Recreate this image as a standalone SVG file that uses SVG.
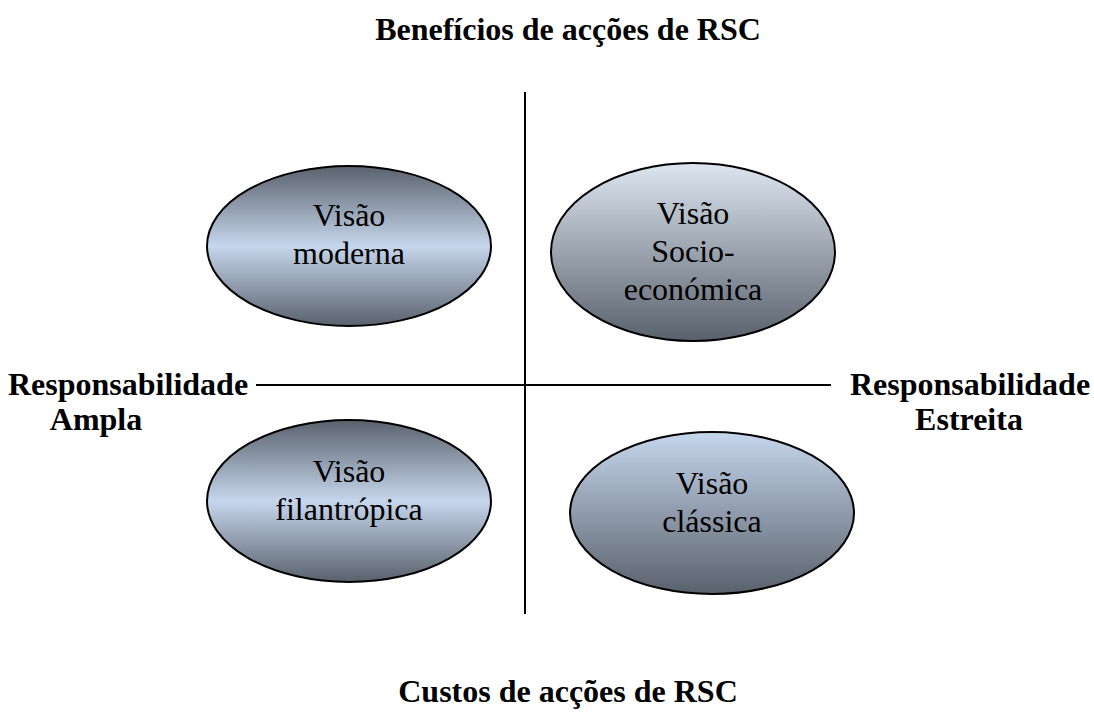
<svg xmlns="http://www.w3.org/2000/svg" width="1094" height="719" viewBox="0 0 1094 719">
<style>
.t{font-family:"Liberation Serif","Times New Roman",serif;font-size:32px;fill:#000}
.b{font-weight:bold}
.n{text-anchor:middle}
.e{stroke:#000;stroke-width:2}
.ln{stroke:#000;stroke-width:2;fill:none}
</style>
<defs>
<linearGradient id="gdld" x1="0" y1="0" x2="0" y2="1">
<stop offset="0" stop-color="#59616c"/>
<stop offset="0.5" stop-color="#c6d6ec"/>
<stop offset="1" stop-color="#59616c"/>
</linearGradient>
<linearGradient id="gld1" x1="0" y1="0" x2="0" y2="1">
<stop offset="0" stop-color="#dde5f0"/>
<stop offset="1" stop-color="#59616c"/>
</linearGradient>
<linearGradient id="gld2" x1="0" y1="0" x2="0" y2="1">
<stop offset="0" stop-color="#c6d6ec"/>
<stop offset="1" stop-color="#59616c"/>
</linearGradient>
</defs>
<rect width="1094" height="719" fill="#fff"/>
<g id="connectors">
<line class="ln" x1="525" y1="92" x2="525" y2="614"/>
<line class="ln" x1="256" y1="385" x2="831" y2="385"/>
</g>
<g id="title-top"><text class="t b n" x="568" y="40">Benefícios de acções de RSC</text></g>
<g id="title-bottom"><text class="t b n" x="568" y="702">Custos de acções de RSC</text></g>
<g id="label-left"><text class="t b" x="8" y="395">Responsabilidade</text><text class="t b n" x="96" y="430">Ampla</text></g>
<g id="label-right"><text class="t b" x="850" y="395">Responsabilidade</text><text class="t b n" x="969" y="430">Estreita</text></g>
<g id="moderna">
<ellipse class="e" cx="349" cy="246" rx="142" ry="80" fill="url(#gdld)"/>
<text class="t n" x="349" y="226">Visão</text><text class="t n" x="349" y="264">moderna</text>
</g>
<g id="socioeconomica">
<ellipse class="e" cx="693" cy="252" rx="142" ry="89" fill="url(#gld1)"/>
<text class="t n" x="693" y="224">Visão</text><text class="t n" x="693" y="262">Socio-</text><text class="t n" x="693" y="300">económica</text>
</g>
<g id="filantropica">
<ellipse class="e" cx="349" cy="501" rx="142" ry="81" fill="url(#gdld)"/>
<text class="t n" x="349" y="482">Visão</text><text class="t n" x="349" y="520">filantrópica</text>
</g>
<g id="classica">
<ellipse class="e" cx="712" cy="513" rx="142" ry="81" fill="url(#gld2)"/>
<text class="t n" x="712" y="494">Visão</text><text class="t n" x="712" y="532">clássica</text>
</g>
</svg>
